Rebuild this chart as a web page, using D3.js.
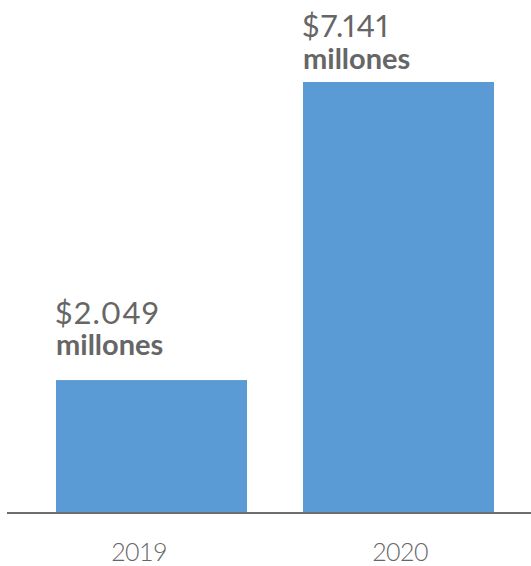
<!DOCTYPE html>
<html><head><meta charset="utf-8">
<script src="https://cdn.jsdelivr.net/npm/d3@7"></script>
<style>body{margin:0;background:#fff}svg{display:block}
.val{font-variant-numeric:proportional-nums;font-feature-settings:"pnum" 1}</style>
</head><body>
<svg id="c" width="531" height="566"></svg>
<script>
const categories = ["2019", "2020"];
const values = [2049, 7141];
const valueLabels = ["$2.049", "$7.141"];
const unitLabel = "millones";

const W = 531, H = 566;
const svg = d3.select("#c");
const baseY = 513;
const pIn = 56 / 247;
const x = d3.scaleBand().domain(categories).range([28, 522]).paddingInner(pIn).paddingOuter(pIn / 2);
const xl = d3.scalePoint().domain(categories).range([139, 400]);
const yMin = -222;
const y = d3.scaleLinear().domain([yMin, 7141]).range([baseY, 82]);
// label gaps above bar tops (layout), per bar
const valGap = [56, 45], unitGap = [25, 13];
const blue = "#5b9bd5", grey = "#666666";
const font = "Lato, 'Open Sans', sans-serif";

svg.selectAll("rect.bar").data(values).join("rect")
  .attr("class", "bar")
  .attr("x", (d, i) => x(categories[i]))
  .attr("width", x.bandwidth())
  .attr("y", d => y(d))
  .attr("height", d => y(yMin) - y(d))
  .attr("fill", blue);

svg.append("line").attr("x1", 7).attr("x2", W).attr("y1", baseY).attr("y2", baseY)
  .attr("stroke", "#6e6e6e").attr("stroke-width", 2);

svg.selectAll("text.cat").data(categories).join("text")
  .attr("class", "cat")
  .attr("x", d => xl(d))
  .attr("y", 561)
  .attr("text-anchor", "middle")
  .attr("font-family", font).attr("font-weight", 300).attr("font-size", 25)
  .attr("letter-spacing", -0.6)
  .attr("fill", grey).text(d => d);

svg.selectAll("text.val").data(values).join("text")
  .attr("class", "val")
  .attr("x", (d, i) => x(categories[i]) - 1)
  .attr("y", (d, i) => y(d) - valGap[i])
  .attr("font-family", font).attr("font-weight", 400).attr("font-size", 31)
  .attr("letter-spacing", 1.2)
  .attr("fill", grey).text((d, i) => valueLabels[i]);

svg.selectAll("text.unit").data(values).join("text")
  .attr("class", "unit")
  .attr("x", (d, i) => x(categories[i]))
  .attr("y", (d, i) => y(d) - unitGap[i])
  .attr("font-family", font).attr("font-weight", 700).attr("font-size", 29)
  .attr("fill", grey).text(unitLabel);
</script>
</body></html>
